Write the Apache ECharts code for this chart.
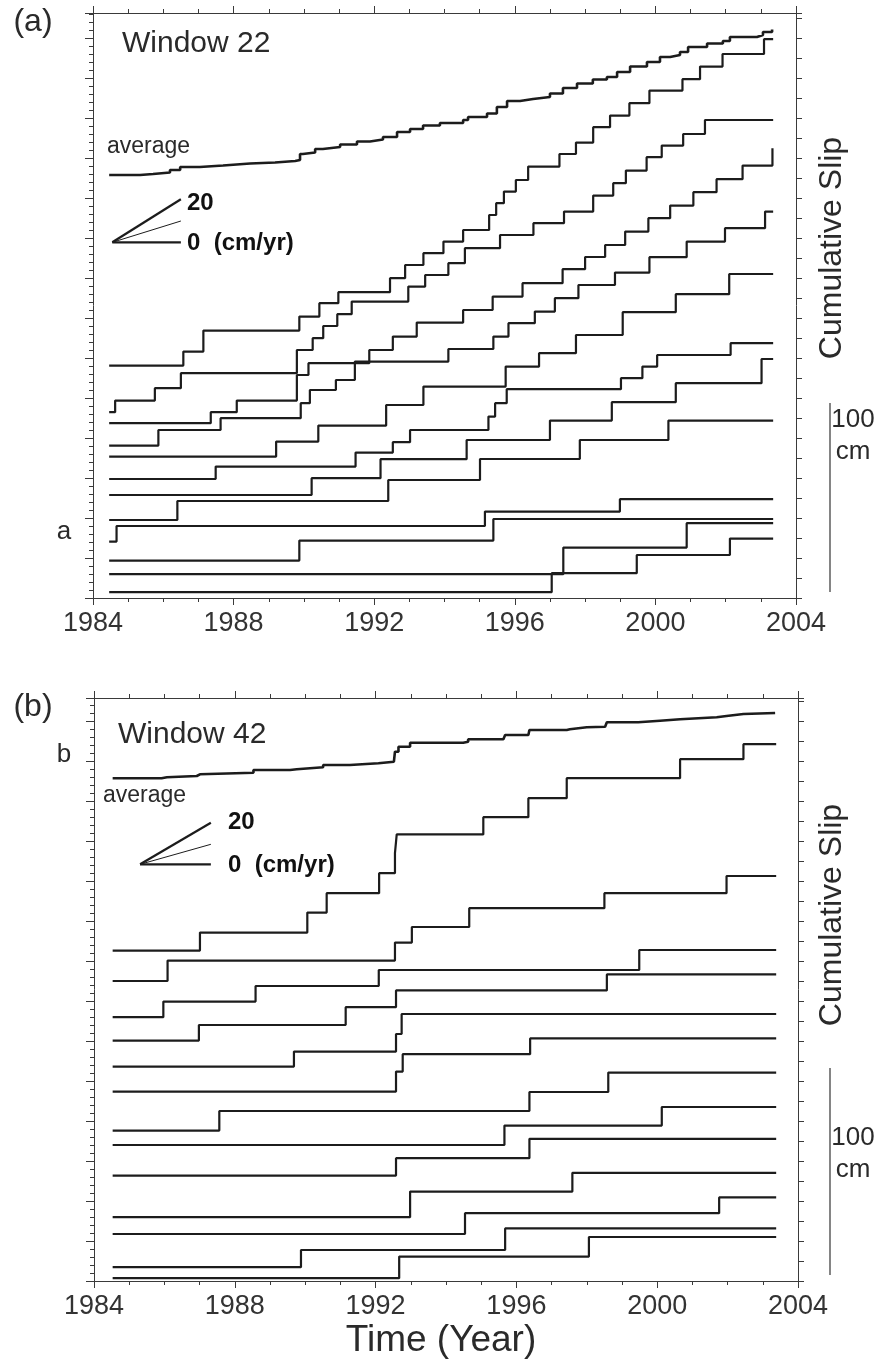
<!DOCTYPE html>
<html><head><meta charset="utf-8">
<script src="https://cdn.jsdelivr.net/npm/echarts@6/dist/echarts.min.js"></script>
<style>html,body{margin:0;padding:0;background:#fff}#c{width:889px;height:1367px}</style>
</head><body><div id="c"></div><script>
// ---------- DATA : [year, cumulative slip (cm, offset)] ----------
// Panel (a) Window 22
const a1 = [[1984.46,116.2],[1986.57,123.2],[1987.14,133.7],[1989.87,140.7],[1990.44,147.4],[1990.98,152.9],[1992.45,159.9],[1992.88,166.5],[1993.40,172.4],[1993.97,178.2],[1994.53,184.0],[1995.27,191.5],[1995.47,197.4],[1995.69,203.2],[1996.03,209.0],[1996.38,215.7],[1997.27,222.0],[1997.74,227.7],[1998.23,235.4],[1998.71,241.2],[1999.26,247.4],[1999.83,253.7],[2000.77,259.4],[2001.27,265.7],[2001.91,272.0],[2003.09,279.4],[2003.35,279.4]];
const a2 = [[1984.46,92.9],[1984.63,98.7],[1985.76,104.9],[1986.50,112.4],[1989.80,124.0],[1990.25,129.9],[1990.55,136.0],[1990.95,141.9],[1991.36,148.2],[1992.97,155.7],[1993.45,161.5],[1994.11,167.4],[1994.58,174.9],[1995.58,181.5],[1996.53,187.4],[1997.40,193.2],[1998.23,201.2],[1998.80,207.4],[1999.16,213.7],[1999.75,220.4],[2000.18,226.2],[2000.79,232.0],[2001.41,239.0],[2003.35,239.0]];
const a3 = [[1984.46,87.4],[1987.35,92.9],[1988.09,98.7],[1989.80,111.5],[1990.13,117.4],[1991.86,124.0],[1992.53,130.7],[1993.21,137.7],[1994.53,144.0],[1995.37,150.7],[1996.22,157.4],[1997.36,164.4],[1998.00,170.5],[1998.57,176.5],[1999.14,183.2],[1999.80,189.9],[2000.42,196.2],[2001.08,202.9],[2001.74,209.4],[2002.48,216.2],[2003.33,224.9]];
const a4 = [[1984.46,76.2],[1985.86,84.0],[1987.63,89.9],[1989.91,97.4],[1990.17,104.0],[1990.91,109.0],[1991.45,118.2],[1994.11,124.5],[1995.39,130.7],[1995.82,137.4],[1996.57,143.2],[1997.14,149.9],[1997.81,156.5],[1998.85,162.7],[1999.83,170.4],[2000.89,178.2],[2001.98,184.9],[2003.12,193.2],[2003.35,193.2]];
const a5 = [[1984.46,70.7],[1989.21,78.2],[1990.41,86.2],[1992.34,96.5],[1993.40,105.7],[1995.74,115.7],[1996.69,122.4],[1997.74,131.5],[1999.07,142.9],[2000.58,151.9],[2002.10,162.0],[2003.35,162.0]];
const a6 = [[1984.46,59.5],[1987.49,65.7],[1991.47,72.7],[1992.53,77.9],[1993.02,84.0],[1995.25,90.7],[1995.44,97.4],[1995.77,104.4],[1999.02,109.9],[1999.63,115.7],[2000.05,121.5],[2002.14,127.4],[2003.35,127.4]];
const a7 = [[1984.46,51.5],[1990.22,59.9],[1992.18,69.4],[1994.63,79.0],[1997.00,88.7],[1998.76,97.9],[2000.58,107.4],[2003.02,119.5],[2003.35,119.5]];
const a8 = [[1984.46,39.0],[1986.40,48.5],[1992.40,59.0],[1995.01,69.5],[1997.85,79.0],[2000.37,88.7],[2003.35,88.7]];
const a9 = [[1984.46,28.2],[1984.67,36.0],[1995.15,43.2],[1998.99,49.4],[2003.35,49.4]];
const a10 = [[1984.46,18.7],[1989.87,28.7],[1995.39,39.5],[2003.35,39.5]];
const a11 = [[1984.46,11.9],[1997.38,25.2],[2000.89,37.4],[2003.35,37.4]];
const a12 = [[1984.46,2.9],[1997.05,12.4],[1999.47,21.5],[2002.12,29.7],[2003.35,29.7]];
const avgA = [[1984.46,211.5],[1985.34,212.0],[1985.71,212.75],[1986.19,214.0],[1986.48,215.5],[1987.04,216.25],[1987.70,217.25],[1988.47,217.75],[1989.18,218.5],[1989.75,219.0],[1989.89,222.0],[1989.97,222.75],[1990.32,224.5],[1990.54,225.5],[1991.03,226.75],[1991.51,228.25],[1991.88,229.25],[1992.25,230.5],[1992.65,233.0],[1993.02,234.5],[1993.39,236.25],[1993.87,237.5],[1994.53,239.0],[1994.67,240.5],[1995.21,242.25],[1995.49,245.5],[1995.78,248.5],[1996.15,249.5],[1996.52,250.5],[1997.00,252.25],[1997.37,255.0],[1997.77,257.25],[1998.22,259.25],[1998.62,260.5],[1998.91,263.0],[1999.28,265.75],[1999.76,268.0],[2000.13,270.5],[2000.42,271.5],[2000.70,273.0],[2000.93,275.5],[2001.47,277.25],[2001.92,278.5],[2002.12,280.5],[2002.89,281.5],[2003.06,283.0],[2003.32,284.25]];
// rate fan (cm/yr key): origin and ends for 20, mid, 0
const fanA20 = [[1984.55,177.85],[1986.50,199.35]];
const fanAmid = [[1984.55,177.85],[1986.50,188.5]];
const fanA0 = [[1984.55,177.85],[1986.50,177.85]];

// Panel (b) Window 42
const b1 = [[1984.53,165.2],[1987.01,174.2],[1990.06,184.2],[1990.61,193.9],[1992.10,203.9],[1992.55,213.9],[1992.60,223.3],[1995.06,231.9],[1996.34,241.4],[1997.43,251.4],[2000.65,260.9],[2002.45,268.4],[2003.38,268.4]];
const b2 = [[1984.53,150.0],[1986.09,160.2],[1992.55,169.2],[1993.03,177.0],[1994.66,186.4],[1998.50,193.9],[2001.97,202.5],[2003.38,202.5]];
const b3 = [[1984.53,131.9],[1985.97,139.7],[1988.59,147.5],[1992.09,155.5],[1999.49,165.5],[2003.38,165.5]];
const b4 = [[1984.53,120.2],[1986.98,128.0],[1991.15,136.9],[1992.58,145.3],[1998.57,153.3],[2003.38,153.3]];
const b5 = [[1984.53,107.2],[1989.68,114.7],[1992.58,123.5],[1992.74,133.5],[2003.38,133.5]];
const b6 = [[1984.53,94.7],[1992.58,104.7],[1992.77,113.4],[1996.39,121.3],[2003.38,121.3]];
const b7 = [[1984.53,75.2],[1987.56,85.0],[1996.37,94.5],[1998.61,104.2],[2003.38,104.2]];
const b8 = [[1984.53,68.0],[1995.66,77.7],[2000.13,87.0],[2003.38,87.0]];
const b9 = [[1984.53,52.7],[1992.58,61.4],[1996.37,71.1],[2003.38,71.1]];
const b10 = [[1984.53,31.9],[1992.98,44.7],[1997.59,54.1],[2003.38,54.1]];
const b11 = [[1984.53,23.5],[1994.54,33.9],[2001.76,41.8],[2003.38,41.8]];
const b12 = [[1984.53,6.9],[1989.88,15.5],[1995.68,26.3],[2003.38,26.3]];
const b13 = [[1984.53,1.4],[1992.67,12.2],[1998.06,22.0],[2003.38,22.0]];
const avgB = [[1984.53,251.35],[1985.92,251.85],[1986.07,252.5],[1986.92,253.35],[1987.01,254.15],[1988.53,255.5],[1989.57,255.85],[1989.76,256.85],[1990.51,258.0],[1991.27,258.85],[1992.08,259.65],[1992.52,260.5],[1992.55,264.65],[1992.65,267.15],[1992.98,269.15],[1994.49,269.65],[1994.63,270.85],[1995.63,271.85],[1995.68,273.0],[1996.34,273.85],[1996.37,275.5],[1997.43,275.85],[1997.52,276.85],[1998.00,277.15],[1998.52,278.0],[1998.57,279.35],[1999.46,280.15],[2000.08,280.85],[2000.65,281.85],[2001.69,282.5],[2001.97,283.5],[2002.45,284.0],[2003.35,284.0]];
const fanB20 = [[1985.31,208.35],[1987.32,229.15]];
const fanBmid = [[1985.31,208.35],[1987.32,218.35]];
const fanB0 = [[1985.31,208.35],[1987.32,208.35]];

const xRange = [1984, 2004];
const xStep = 4;

// ---------- CHART ----------
const FONT = "'Liberation Sans', Arial, Helvetica, sans-serif";
const AX = '#3a3a3a';
const INK = '#1c1c1c';

function xAxes(gi) {
  const base = {
    type: 'value', gridIndex: gi, min: xRange[0], max: xRange[1], interval: xStep,
    axisLine: { show: true, onZero: false, lineStyle: { color: AX, width: 1 } },
    axisTick: { show: true, inside: false, length: 7, lineStyle: { color: AX, width: 1 } },
    minorTick: { show: true, splitNumber: 4, length: 4, lineStyle: { color: AX, width: 1 } },
    splitLine: { show: false }, minorSplitLine: { show: false }
  };
  return [
    Object.assign({}, base, { position: 'bottom',
      axisLabel: { show: true, fontSize: 27, color: '#333', fontFamily: FONT, margin: 12,
        formatter: v => String(Math.round(v)) } }),
    Object.assign({}, base, { position: 'top', axisLabel: { show: false } })
  ];
}
function yAxes(gi, max) {
  const base = {
    type: 'value', gridIndex: gi, min: 0, max: max,
    axisLine: { show: true, onZero: false, lineStyle: { color: AX, width: 1 } },
    axisLabel: { show: false }, splitLine: { show: false }, minorSplitLine: { show: false }
  };
  return [
    Object.assign({}, base, { position: 'left', interval: 20,
      axisTick: { show: true, inside: false, length: 8, lineStyle: { color: AX } },
      minorTick: { show: true, splitNumber: 5, length: 4, lineStyle: { color: AX } } }),
    Object.assign({}, base, { position: 'right', interval: 10,
      axisTick: { show: true, inside: false, length: 6, lineStyle: { color: AX } } })
  ];
}

const series = [];
function stepSeries(list, xi, yi) {
  list.forEach(d => series.push({
    type: 'line', step: 'end', data: d, xAxisIndex: xi, yAxisIndex: yi,
    symbol: 'none', silent: true, lineStyle: { color: INK, width: 2.2 }, z: 3
  }));
}
function avgSeries(d, xi, yi) {
  series.push({ type: 'line', step: 'end', data: d, xAxisIndex: xi, yAxisIndex: yi,
    symbol: 'none', silent: true, lineStyle: { color: INK, width: 2.6 }, z: 4 });
}
function fanSeries(list, widths, xi, yi) {
  list.forEach((d, i) => series.push({ type: 'line', data: d, xAxisIndex: xi, yAxisIndex: yi,
    symbol: 'none', silent: true, lineStyle: { color: INK, width: widths[i] }, z: 4 }));
}
stepSeries([a1,a2,a3,a4,a5,a6,a7,a8,a9,a10,a11,a12], 0, 0);
avgSeries(avgA, 0, 0);
fanSeries([fanA20, fanAmid, fanA0], [2.2, 1, 2.2], 0, 0);
stepSeries([b1,b2,b3,b4,b5,b6,b7,b8,b9,b10,b11,b12,b13], 2, 2);
avgSeries(avgB, 2, 2);
fanSeries([fanB20, fanBmid, fanB0], [2.2, 1, 2.2], 2, 2);

function txt(text, x, y, size, opts) {
  opts = opts || {};
  return Object.assign({
    type: 'text', x: x, y: y, silent: true, z: 10,
    style: {
      text: text, fill: opts.fill || '#2a2a2a',
      font: (opts.weight || 'normal') + ' ' + size + 'px ' + FONT,
      align: opts.align || 'left', textAlign: opts.align || 'left',
      verticalAlign: 'middle', textVerticalAlign: 'middle'
    }
  }, opts.rotation ? { rotation: opts.rotation } : {});
}
function vline(x, y1, y2) {
  return { type: 'line', silent: true, shape: { x1: x, y1: y1, x2: x, y2: y2 },
    style: { stroke: '#333', lineWidth: 1.2 } };
}

const graphic = [
  txt('(a)', 33, 22, 32, { align: 'center' }),
  txt('(b)', 33, 707, 32, { align: 'center' }),
  txt('Window 22', 122, 44, 30),
  txt('Window 42', 118, 735, 30),
  txt('average', 107, 147, 23),
  txt('average', 103, 796, 23),
  txt('20', 187, 203, 24, { weight: 'bold', fill: '#111' }),
  txt('0  (cm/yr)', 187, 243, 24, { weight: 'bold', fill: '#111' }),
  txt('20', 228, 822, 24, { weight: 'bold', fill: '#111' }),
  txt('0  (cm/yr)', 228, 865, 24, { weight: 'bold', fill: '#111' }),
  txt('a', 64, 532, 26, { align: 'center' }),
  txt('b', 64, 755, 26, { align: 'center' }),
  txt('Cumulative Slip', 832, 248, 32, { align: 'center', rotation: Math.PI / 2 }),
  txt('Cumulative Slip', 832, 915, 32, { align: 'center', rotation: Math.PI / 2 }),
  vline(830, 403, 592),
  vline(830, 1068, 1275),
  txt('100', 853, 420, 26, { align: 'center' }),
  txt('cm', 853, 452, 26, { align: 'center' }),
  txt('100', 853, 1138, 26, { align: 'center' }),
  txt('cm', 853, 1170, 26, { align: 'center' }),
  txt('Time (Year)', 441, 1341, 37, { align: 'center' })
];

const option = {
  backgroundColor: '#fff',
  animation: false,
  grid: [
    { left: 93, top: 13, width: 703, height: 585, containLabel: false },
    { left: 94, top: 698, width: 704, height: 583, containLabel: false }
  ],
  xAxis: xAxes(0).concat(xAxes(1)),
  yAxis: yAxes(0, 292.5).concat(yAxes(1, 291.5)),
  series: series,
  graphic: graphic
};
const chart = echarts.init(document.getElementById('c'), null, { renderer: 'canvas' });
chart.setOption(option);
</script></body></html>
